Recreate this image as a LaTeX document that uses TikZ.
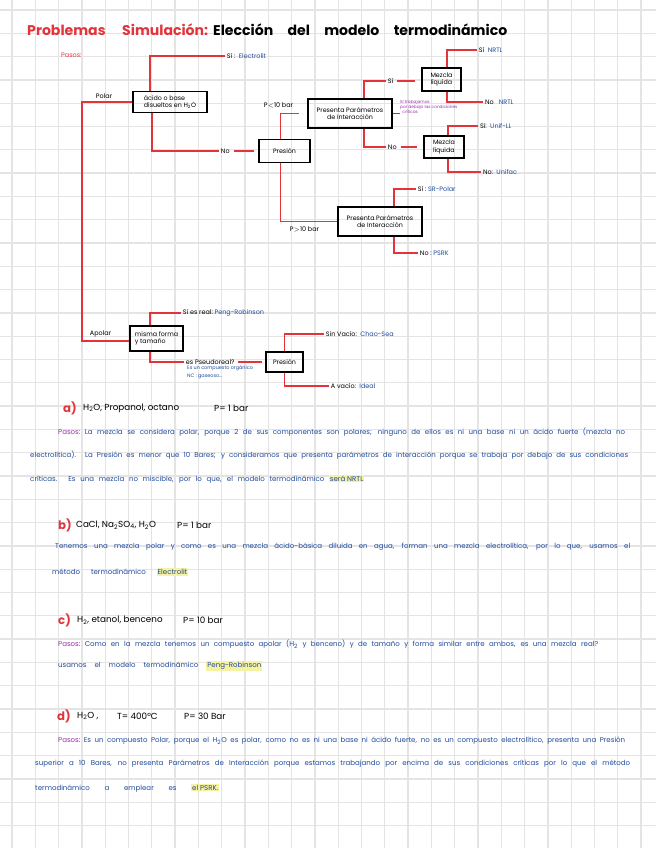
\documentclass[tikz,border=0pt]{standalone}
\usepackage{fontspec}
\setmainfont{Poppins}
\newlength\pxu
\setlength\pxu{0.03cm}
\definecolor{rojo}{HTML}{E2343A}
\definecolor{azul}{HTML}{1F4A9C}
\definecolor{lila}{HTML}{9A2FA8}
\definecolor{amarillo}{HTML}{F6F2A2}
\definecolor{rejilla}{HTML}{E4E4E4}
\newcommand{\marca}[1]{{\setlength{\fboxsep}{0.8pt}\colorbox{amarillo}{#1}}}
\newcommand{\renglon}[2]{\makebox[#1\pxu][s]{#2}}
\newcommand{\pasos}{\textcolor{lila}{Pasos}:\ }

\tikzset{
  rama/.style={draw=rojo, line width=1.2pt},
  caja/.style={draw, line width=0.9pt, align=center, inner sep=1pt, font=\fontsize{5.4}{6.4}\selectfont},
  etiq/.style={anchor=west, inner sep=1.5pt, font=\fontsize{5.5}{6.5}\selectfont},
  parrafo/.style={anchor=west, inner sep=0pt, text=azul, font=\fontsize{6}{7}\selectfont},
  enunciado/.style={anchor=west, inner sep=0pt, font=\fontsize{7.5}{8.5}\selectfont},
  letra/.style={anchor=west, inner sep=0pt, text=rojo, font=\bfseries\fontsize{10}{12}\selectfont},
}

\begin{document}
\begin{tikzpicture}[x=0.03cm, y=-0.03cm]

  \useasboundingbox (0,0) rectangle (656,848);
  \fill[white] (0,0) rectangle (656,848);

  % cuadricula del cuaderno
  \foreach \i in {0,...,27}
    \draw[rejilla, line width=1.1pt] ({12+23.3*\i},0) -- ({12+23.3*\i},848);
  \foreach \j in {0,...,35}
    \draw[rejilla, line width=1.1pt] (0,{10+23.3*\j}) -- (656,{10+23.3*\j});

  % titulo
  \node[anchor=west, inner sep=0pt, text=rojo, font=\bfseries\fontsize{12}{14}\selectfont] (tituno) at (27,30) {Problemas};
  \node[anchor=west, inner sep=0pt, text=rojo, font=\bfseries\fontsize{12}{14}\selectfont] (titdos) at (122,30) {Simulación:};
  \node[anchor=west, inner sep=0pt, font=\bfseries\fontsize{12}{14}\selectfont] (tittres) at (213,30) {\renglon{294}{Elección del modelo termodinámico}};
  \node[anchor=west, inner sep=0pt, text=rojo, font=\fontsize{5.5}{6.5}\selectfont] (pasostit) at (61,55) {Pasos:};

  % arbol: cajas
  \node[caja, align=left, minimum width=74*\pxu, minimum height=21*\pxu] (acido) at (170,102) {ácido o base\\disueltos en H\textsubscript{2}O};
  \node[caja, minimum width=51*\pxu, minimum height=23*\pxu] (presuno) at (284.5,151) {Presión};
  \node[caja, minimum width=84*\pxu, minimum height=29*\pxu] (paramuno) at (350,113.5) {Presenta Parámetros\\de Interacción};
  \node[caja, align=left, minimum width=39*\pxu, minimum height=23*\pxu] (mezuno) at (441.5,79.5) {Mezcla\\líquida};
  \node[caja, align=left, minimum width=40*\pxu, minimum height=22*\pxu] (mezdos) at (444,147) {Mezcla\\líquida};
  \node[caja, minimum width=84*\pxu, minimum height=29*\pxu] (paramdos) at (380,221.5) {Presenta Parámetros\\de Interacción};
  \node[caja, align=left, minimum width=53*\pxu, minimum height=25*\pxu] (forma) at (156.5,338.5) {misma forma\\y tamaño};
  \node[caja, minimum width=37*\pxu, minimum height=20*\pxu] (presdos) at (284.5,362) {Presión};

  % arbol: etiquetas
  \node[etiq] (polar) at (94,96) {Polar};
  \node[etiq] (apolar) at (88,334) {Apolar};
  \node[etiq] (sielec) at (225,56) {Sí :\ \ \textcolor{azul}{Electrolit}};
  \node[etiq] (nopres) at (219,151) {No};
  \node[etiq] (pmenor) at (262,105) {P$<$10 bar};
  \node[etiq] (pmayor) at (288,229) {P$>$10 bar};
  \node[etiq] (simez) at (386,81) {Sí};
  \node[etiq] (nomez) at (386,147) {No};
  \node[etiq, text=lila, align=left, anchor=north west, inner sep=0pt, font=\fontsize{3.6}{4.3}\selectfont] (nota) at (400,100) {Sí trabajamos\\por debajo las condiciones\\\ \ críticas};
  \node[etiq] (siuno) at (477,50) {Sí\ \ \textcolor{azul}{NRTL}};
  \node[etiq] (nouno) at (483,102) {No\ \ \ \textcolor{azul}{NRTL}};
  \node[etiq] (sidos) at (478,126) {Sí:\ \ \textcolor{azul}{Unif-LL}};
  \node[etiq] (nodos) at (481,172) {No:\ \ \textcolor{azul}{Unifac}};
  \node[etiq] (sitres) at (416,189) {Sí :\ \textcolor{azul}{SR-Polar}};
  \node[etiq] (notres) at (418,253) {No :\ \textcolor{azul}{PSRK}};
  \node[etiq] (sireal) at (181,313) {Sí es real:\ \textcolor{azul}{Peng-Robinson}};
  \node[etiq] (pseudo) at (184,362) {es Pseudoreal?};
  \node[etiq, text=azul, align=left, anchor=north west, inner sep=0pt, font=\fontsize{4.2}{7.5}\selectfont] (notaorg) at (187,365) {Es un compuesto orgánico\\NC : gaseoso...};
  \node[etiq] (sinvacio) at (324,334) {Sin Vacío:\ \ \textcolor{azul}{Chao-Sea}};
  \node[etiq] (avacio) at (329,386) {A vacío:\ \ \textcolor{azul}{Ideal}};

  % arbol: ramas
  \coordinate (raiz) at (82,102);
  \draw[rama] (acido.west) -- (raiz) |- ([yshift=-2.5*\pxu]forma.west);
  \draw[rama] ([xshift=-20*\pxu]acido.north) |- (sielec.west);
  \draw[rama] ([xshift=-18*\pxu]acido.south) |- (nopres.west);
  \draw[rama, shorten <=2*\pxu, shorten >=4*\pxu] (nopres.east) -- (presuno.west);
  \draw[rama, shorten >=8*\pxu] ([xshift=-4*\pxu]presuno.north) |- (paramuno.west);
  \draw[rama] ([xshift=-4*\pxu]presuno.south) |- (paramdos.west);
  \draw[rama] ([xshift=14*\pxu]paramuno.north) |- (simez.west);
  \draw[rama] ([xshift=14*\pxu]paramuno.south) |- (nomez.west);
  \draw[rama, shorten <=2*\pxu, shorten >=6*\pxu] (simez.east) -- (simez.east -| mezuno.west);
  \draw[rama, shorten <=2*\pxu, shorten >=6*\pxu] (nomez.east) -- (nomez.east -| mezdos.west);
  \draw[lila, line width=0.6pt] (paramuno.east) -- (paramuno.east -| nota.west);
  \draw[rama] ([xshift=5.5*\pxu]mezuno.north) |- (siuno.west);
  \draw[rama] ([xshift=5.5*\pxu]mezuno.south) |- (nouno.west);
  \draw[rama] ([xshift=4*\pxu]mezdos.north) |- (sidos.west);
  \draw[rama] ([xshift=4*\pxu]mezdos.south) |- (nodos.west);
  \draw[rama] ([xshift=14*\pxu]paramdos.north) |- (sitres.west);
  \draw[rama] ([xshift=14*\pxu]paramdos.south) |- (notres.west);
  \draw[rama] ([xshift=-6.5*\pxu]forma.north) |- (sireal.west);
  \draw[rama] ([xshift=-6.5*\pxu]forma.south) |- (pseudo.west);
  \draw[rama, shorten <=2*\pxu, shorten >=3*\pxu] (pseudo.east) -- (presdos.west);
  \draw[rama] (presdos.north) |- (sinvacio.west);
  \draw[rama] (presdos.south) |- (avacio.west);

  % a)
  \node[letra] (leta) at (63,408) {a)};
  \node[enunciado] (enuna) at (83,408) {H\textsubscript{2}O, Propanol, octano};
  \node[enunciado] (presa) at (214,408) {P= 1 bar};
  \node[parrafo] (launo) at (58,432) {\renglon{567}{\pasos La mezcla se considera polar, porque 2 de sus componentes son polares; ninguno de ellos es ni una base ni un ácido fuerte (mezcla no}};
  \node[parrafo] (lados) at (30,455) {\renglon{598}{electrolítica). La Presión es menor que 10 Bares; y consideramos que presenta parámetros de interacción porque se trabaja por debajo de sus condiciones}};
  \node[parrafo] (latres) at (30,479) {\renglon{334}{críticas. Es una mezcla no miscible, por lo que, el modelo termodinámico \marca{será NRTL}}};

  % b)
  \node[letra] (letb) at (58,525) {b)};
  \node[enunciado] (enunb) at (76,525) {CaCl, Na\textsubscript{2}SO\textsubscript{4}, H\textsubscript{2}O};
  \node[enunciado] (presb) at (177,525) {P= 1 bar};
  \node[parrafo] (lbuno) at (55,547) {\renglon{575}{Tenemos una mezcla polar y como es una mezcla ácido-básica diluida en agua, forman una mezcla electrolítica, por lo que, usamos el}};
  \node[parrafo] (lbdos) at (52,572) {\renglon{136}{método termodinámico \marca{Electrolit}}};

  % c)
  \node[letra] (letc) at (58,620) {c)};
  \node[enunciado] (enunc) at (77,620) {H\textsubscript{2}, etanol, benceno};
  \node[enunciado] (presc) at (183,620) {P= 10 bar};
  \node[parrafo] (lcuno) at (58,644) {\renglon{540}{\pasos Como en la mezcla tenemos un compuesto apolar (H\textsubscript{2} y benceno) y de tamaño y forma similar entre ambos, es una mezcla real?}};
  \node[parrafo] (lcdos) at (58,666) {\renglon{204}{usamos el modelo termodinámico \marca{Peng-Robinson}}};

  % d)
  \node[letra] (letd) at (57,716) {d)};
  \node[enunciado] (enund) at (77,716) {H\textsubscript{2}O ,};
  \node[enunciado] (tempd) at (117,716) {T= 400°C};
  \node[enunciado] (presd) at (184,716) {P= 30 Bar};
  \node[parrafo] (lduno) at (58,741) {\renglon{567}{\pasos Es un compuesto Polar, porque el H\textsubscript{2}O es polar, como no es ni una base ni ácido fuerte, no es un compuesto electrolítico, presenta una Presión}};
  \node[parrafo] (lddos) at (35,764) {\renglon{595}{superior a 10 Bares, no presenta Parámetros de Interacción porque estamos trabajando por encima de sus condiciones críticas por lo que el método}};
  \node[parrafo] (ldtres) at (35,788) {\renglon{184}{termodinámico a emplear es \marca{el PSRK.}}};

\end{tikzpicture}
\end{document}
